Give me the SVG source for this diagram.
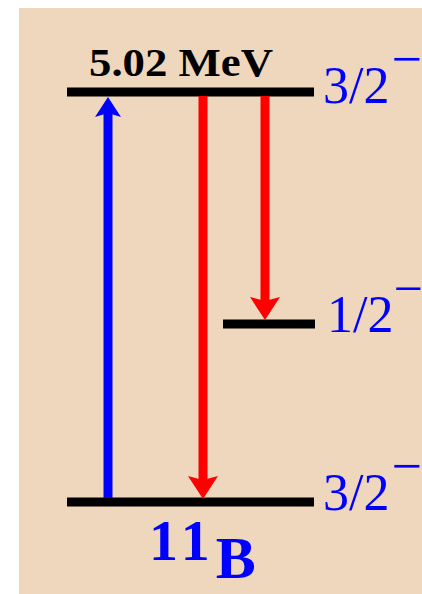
<svg xmlns="http://www.w3.org/2000/svg" width="422" height="594" viewBox="0 0 422 594">
<style>
.lvl{stroke:#000;stroke-width:9;stroke-linecap:butt}
.jp{font-family:"Liberation Serif","Times New Roman",serif;font-size:52px;fill:#0000FF}
.e{font-family:"Liberation Serif","Times New Roman",serif;font-size:41px;font-weight:bold;fill:#000}
.nuc{font-family:"Liberation Serif","Times New Roman",serif;font-weight:bold;fill:#0000FF}
</style>
<defs>
<marker id="hb" markerUnits="userSpaceOnUse" viewBox="0 0 20 26" markerWidth="20" markerHeight="26" refX="4" refY="13" orient="auto">
<path d="M0,0 L20,13 L0,26 L4,13 Z" fill="#0000FF"/>
</marker>
<marker id="hr" markerUnits="userSpaceOnUse" viewBox="0 0 23 30" markerWidth="23" markerHeight="30" refX="4" refY="15" orient="auto">
<path d="M0,0 L23,15 L0,30 L4,15 Z" fill="#FF0000"/>
</marker>
</defs>
<rect x="19" y="8" width="403" height="586" fill="#EFD7BD"/>
<g id="level-top">
<line class="lvl" x1="67" y1="92" x2="314" y2="92"/>
<text class="e" x="89" y="76" textLength="184" lengthAdjust="spacingAndGlyphs">5.02 MeV</text>
<text class="jp" x="323" y="103">3/2<tspan dx="2" dy="-26" font-size="54">−</tspan></text>
</g>
<g id="level-mid">
<line class="lvl" x1="223" y1="324" x2="315" y2="324"/>
<text class="jp" x="327" y="332">1/2<tspan dx="0" dy="-26" font-size="52">−</tspan></text>
</g>
<g id="level-bottom">
<line class="lvl" x1="67" y1="502" x2="314" y2="502"/>
<text class="jp" x="323" y="510">3/2<tspan dx="2" dy="-26" font-size="54">−</tspan></text>
<text class="nuc" x="149" y="560" font-size="58" letter-spacing="6">11<tspan font-size="60" dy="18" letter-spacing="0">B</tspan></text>
</g>
<g id="connectors">
<line x1="108" y1="498" x2="108" y2="113" stroke="#0000FF" stroke-width="9" marker-end="url(#hb)"/>
<line x1="203" y1="96" x2="203" y2="480" stroke="#FF0000" stroke-width="9" marker-end="url(#hr)"/>
<line x1="265" y1="96" x2="265" y2="301" stroke="#FF0000" stroke-width="9" marker-end="url(#hr)"/>
</g>
</svg>
